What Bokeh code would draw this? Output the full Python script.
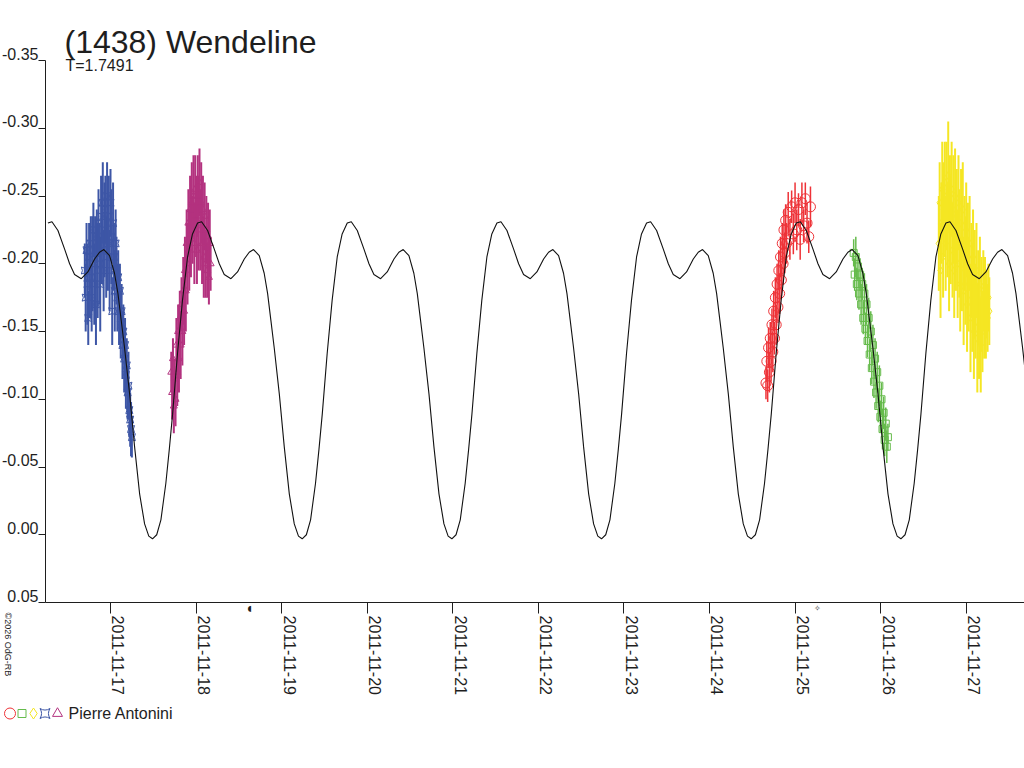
import math
from bokeh.plotting import figure
from bokeh.models import Range1d, FixedTicker, Label, LinearAxis
from bokeh.core.properties import value
from bokeh.embed import file_html
from bokeh.resources import INLINE

TITLE = "(1438) Wendeline"
PERIOD_TEXT = "T=1.7491"
PERIOD = 1.7491          # days
EPOCH_MIN = 19.2403      # day of Nov 2011 of a light-curve minimum
OBSERVER = "Pierre Antonini"
COPYRIGHT = "\u00a92026 OdG-RB"

day_ticks = [17, 18, 19, 20, 21, 22, 23, 24, 25, 26, 27]
day_labels = ["2011-11-17", "2011-11-18", "2011-11-19", "2011-11-20", "2011-11-21",
              "2011-11-22", "2011-11-23", "2011-11-24", "2011-11-25", "2011-11-26",
              "2011-11-27"]
mag_ticks = [-0.35, -0.30, -0.25, -0.20, -0.15, -0.10, -0.05, 0.00, 0.05]
mag_labels = ["-0.35", "-0.30", "-0.25", "-0.20", "-0.15", "-0.10", "-0.05", "0.00", "0.05"]
moon_t = [18.63, 25.26]          # last quarter, new moon
moon_sym = ["\u25d6", "\u2727"]

# one cycle of the fitted light curve (phase, relative magnitude)
curve_phase = [0.000, 0.028, 0.056, 0.089, 0.112, 0.134, 0.167, 0.200, 0.234, 0.267,
               0.301, 0.328, 0.368, 0.412, 0.446, 0.479, 0.524, 0.568, 0.613, 0.646,
               0.675, 0.713, 0.746, 0.769, 0.791, 0.813, 0.847, 0.880, 0.914, 0.947,
               0.975]
curve_mag = [0.003, 0.000, -0.011, -0.038, -0.063, -0.089, -0.134, -0.173, -0.205, -0.222,
             -0.230, -0.231, -0.2245, -0.211, -0.200, -0.192, -0.189, -0.194, -0.2035, -0.2085,
             -0.2105, -0.206, -0.193, -0.178, -0.158, -0.138, -0.104, -0.065, -0.030, -0.008,
             0.001]
cycles = [-2, -1, 0, 1, 2, 3, 4, 5]

# blue session (square pins)
blue_t = [16.70, 16.71, 16.72, 16.73, 16.74, 16.75, 16.76, 16.77, 16.78, 16.79,
          16.80, 16.81, 16.82, 16.83, 16.84, 16.85, 16.86, 16.87, 16.88, 16.89,
          16.90, 16.91, 16.92, 16.93, 16.94, 16.95, 16.96, 16.97, 16.98, 16.99,
          17.00, 17.01, 17.02, 17.03, 17.04, 17.05, 17.06, 17.07, 17.08, 17.09,
          17.10, 17.11, 17.12, 17.13, 17.14, 17.15, 17.16, 17.17, 17.18, 17.19,
          17.20, 17.21, 17.22, 17.23, 17.24, 17.25]
blue_mag = [-0.195, -0.175, -0.210, -0.185, -0.160, -0.205, -0.190, -0.215, -0.175, -0.200,
            -0.225, -0.185, -0.210, -0.170, -0.220, -0.195, -0.230, -0.200, -0.185, -0.235,
            -0.210, -0.245, -0.195, -0.225, -0.240, -0.205, -0.250, -0.215, -0.235, -0.195,
            -0.245, -0.220, -0.165, -0.230, -0.205, -0.180, -0.215, -0.195, -0.175, -0.190,
            -0.165, -0.180, -0.155, -0.165, -0.140, -0.150, -0.130, -0.140, -0.118, -0.125,
            -0.105, -0.110, -0.092, -0.085, -0.078, -0.072]
blue_err = [0.020, 0.025, 0.020, 0.030, 0.020, 0.025, 0.030, 0.020, 0.025, 0.035,
            0.020, 0.030, 0.025, 0.030, 0.020, 0.035, 0.025, 0.030, 0.035, 0.030,
            0.025, 0.030, 0.030, 0.035, 0.025, 0.030, 0.025, 0.035, 0.030, 0.030,
            0.025, 0.035, 0.025, 0.030, 0.025, 0.030, 0.025, 0.025, 0.025, 0.020,
            0.025, 0.020, 0.025, 0.020, 0.025, 0.020, 0.025, 0.020, 0.025, 0.020,
            0.020, 0.025, 0.020, 0.020, 0.020, 0.015]

# magenta session (triangles)
mag_t = [17.71, 17.72, 17.73, 17.74, 17.75, 17.76, 17.77, 17.78, 17.79, 17.80,
         17.81, 17.82, 17.83, 17.84, 17.85, 17.86, 17.87, 17.88, 17.89, 17.90,
         17.91, 17.92, 17.93, 17.94, 17.95, 17.96, 17.97, 17.98, 17.99, 18.00,
         18.01, 18.02, 18.03, 18.04, 18.05, 18.06, 18.07, 18.08, 18.09, 18.10,
         18.11, 18.12, 18.13, 18.14, 18.15, 18.16, 18.17]
mag_mag = [-0.120, -0.105, -0.130, -0.095, -0.115, -0.100, -0.140, -0.120, -0.150, -0.130,
           -0.160, -0.140, -0.170, -0.150, -0.180, -0.165, -0.195, -0.180, -0.215, -0.200,
           -0.230, -0.210, -0.240, -0.220, -0.245, -0.225, -0.250, -0.215, -0.255, -0.235,
           -0.210, -0.250, -0.230, -0.260, -0.225, -0.245, -0.215, -0.240, -0.205, -0.235,
           -0.200, -0.225, -0.195, -0.220, -0.190, -0.215, -0.200]
mag_err = [0.015, 0.020, 0.015, 0.020, 0.015, 0.020, 0.020, 0.025, 0.020, 0.025,
           0.020, 0.025, 0.020, 0.025, 0.025, 0.025, 0.025, 0.030, 0.025, 0.030,
           0.025, 0.030, 0.025, 0.030, 0.030, 0.025, 0.030, 0.030, 0.025, 0.030,
           0.025, 0.030, 0.035, 0.025, 0.030, 0.030, 0.030, 0.025, 0.030, 0.025,
           0.025, 0.025, 0.020, 0.025, 0.020, 0.025, 0.020]

# red session (circles)
red_t = [24.66, 24.67, 24.68, 24.69, 24.70, 24.71, 24.72, 24.73, 24.74, 24.75,
         24.76, 24.77, 24.78, 24.79, 24.80, 24.81, 24.82, 24.83, 24.84, 24.85,
         24.86, 24.87, 24.88, 24.89, 24.90, 24.92, 24.94, 24.96, 24.98, 25.00,
         25.02, 25.04, 25.06, 25.08, 25.10, 25.12, 25.14, 25.16, 25.18]
red_mag = [-0.112, -0.128, -0.110, -0.138, -0.120, -0.145, -0.128, -0.155, -0.135, -0.165,
           -0.145, -0.175, -0.155, -0.185, -0.168, -0.195, -0.178, -0.205, -0.188, -0.215,
           -0.200, -0.225, -0.208, -0.232, -0.215, -0.238, -0.218, -0.242, -0.222, -0.245,
           -0.225, -0.240, -0.218, -0.245, -0.228, -0.248, -0.230, -0.220, -0.242]
red_err = [0.012, 0.015, 0.012, 0.015, 0.015, 0.012, 0.015, 0.012, 0.015, 0.015,
           0.012, 0.015, 0.015, 0.015, 0.012, 0.015, 0.015, 0.015, 0.012, 0.015,
           0.015, 0.015, 0.015, 0.012, 0.015, 0.015, 0.015, 0.012, 0.015, 0.015,
           0.015, 0.012, 0.015, 0.015, 0.012, 0.012, 0.015, 0.012, 0.015]

# green session (squares)
green_t = [25.685, 25.697, 25.710, 25.722, 25.735, 25.747, 25.760, 25.772, 25.785, 25.797,
           25.810, 25.822, 25.835, 25.847, 25.860, 25.872, 25.885, 25.897, 25.910, 25.922,
           25.935, 25.947, 25.960, 25.972, 25.985, 25.997, 26.010, 26.022, 26.035, 26.047,
           26.060, 26.072, 26.085]
green_mag = [-0.208, -0.192, -0.205, -0.185, -0.198, -0.178, -0.192, -0.170, -0.185, -0.160,
             -0.178, -0.152, -0.170, -0.143, -0.160, -0.133, -0.150, -0.123, -0.140, -0.113,
             -0.130, -0.105, -0.120, -0.095, -0.110, -0.087, -0.100, -0.078, -0.090, -0.070,
             -0.082, -0.065, -0.072]
green_err = [0.010, 0.012, 0.015, 0.012, 0.010, 0.012, 0.012, 0.015, 0.012, 0.012,
             0.015, 0.012, 0.015, 0.012, 0.015, 0.012, 0.015, 0.012, 0.015, 0.012,
             0.015, 0.012, 0.015, 0.012, 0.015, 0.012, 0.012, 0.015, 0.012, 0.012,
             0.012, 0.012, 0.010]

# yellow session (diamonds)
yel_t = [26.68, 26.69, 26.70, 26.71, 26.72, 26.73, 26.74, 26.75, 26.76, 26.77,
         26.78, 26.79, 26.80, 26.81, 26.82, 26.83, 26.84, 26.85, 26.86, 26.87,
         26.88, 26.89, 26.90, 26.91, 26.92, 26.93, 26.94, 26.95, 26.96, 26.97,
         26.98, 26.99, 27.00, 27.01, 27.02, 27.03, 27.04, 27.05, 27.06, 27.07,
         27.08, 27.09, 27.10, 27.11, 27.12, 27.13, 27.14, 27.15, 27.16, 27.17,
         27.18, 27.19, 27.20, 27.21, 27.22, 27.23, 27.24, 27.25, 27.26, 27.27]
yel_mag = [-0.215, -0.245, -0.195, -0.230, -0.255, -0.205, -0.240, -0.260, -0.215, -0.250,
           -0.225, -0.265, -0.200, -0.245, -0.225, -0.255, -0.210, -0.240, -0.195, -0.250,
           -0.220, -0.235, -0.200, -0.245, -0.215, -0.185, -0.230, -0.200, -0.240, -0.180,
           -0.215, -0.195, -0.225, -0.170, -0.205, -0.185, -0.215, -0.160, -0.195, -0.175,
           -0.205, -0.150, -0.185, -0.165, -0.195, -0.145, -0.175, -0.155, -0.185, -0.140,
           -0.170, -0.150, -0.180, -0.160, -0.175, -0.155, -0.170, -0.160, -0.175, -0.165]
yel_err = [0.035, 0.030, 0.035, 0.030, 0.035, 0.030, 0.035, 0.030, 0.035, 0.040,
           0.035, 0.040, 0.035, 0.035, 0.040, 0.035, 0.035, 0.040, 0.035, 0.035,
           0.040, 0.035, 0.040, 0.035, 0.040, 0.035, 0.040, 0.035, 0.035, 0.040,
           0.035, 0.040, 0.035, 0.035, 0.040, 0.035, 0.035, 0.040, 0.035, 0.040,
           0.035, 0.035, 0.040, 0.035, 0.035, 0.040, 0.035, 0.040, 0.035, 0.035,
           0.035, 0.030, 0.030, 0.030, 0.030, 0.025, 0.025, 0.025, 0.025, 0.025]

FONT = "Liberation Sans"
INK = "#1e1e1e"
BLUE, MAGENTA, RED, GREEN, YELLOW = "#3d56a6", "#b3327f", "#ee3338", "#66bb4c", "#f5e623"

# ---- layout geometry (page pixels -> data) ----
W, H = 1024, 740
PAGE = 0                      # observed offset of the canvas on the page
AX_X, AX_Y = 45, 602          # page position of the y- and x-axis lines
TOP_Y = 60                    # page y of the -0.35 tick
PX_DAY = 85.57
X0 = 16.2404                  # day at the y-axis line
PX_MAG = (AX_Y - TOP_Y) / 0.40
XLAB_SHIFT = 8 / PX_DAY       # date labels sit just right of their tick
YLAB_SHIFT = 7 / PX_MAG       # magnitude labels sit just above their tick


def px2x(px):
    return X0 + (px - AX_X) / PX_DAY


def py2y(py):
    return -0.35 + (py - TOP_Y) / PX_MAG


p = figure(width=W, height=H,
           x_range=Range1d(px2x(PAGE), px2x(PAGE + W)),
           y_range=Range1d(py2y(PAGE + H), py2y(PAGE)),
           output_backend="svg", toolbar_location=None, title=None, min_border=0)
p.outline_line_color = None
p.xgrid.visible = False
p.ygrid.visible = False
p.background_fill_color = "white"
p.border_fill_color = "white"

sessions = [
    (blue_t, blue_mag, blue_err, BLUE, "square_pin", 7, 2),
    (mag_t, mag_mag, mag_err, MAGENTA, "triangle", 7, 2),
    (red_t, red_mag, red_err, RED, "circle", 10, 1.5),
    (green_t, green_mag, green_err, GREEN, "square", 7, 1.5),
    (yel_t, yel_mag, yel_err, YELLOW, "diamond", 8, 2),
]
for t, m, e, col, mk, sz, lw in sessions:
    lo = [a - b for a, b in zip(m, e)]
    hi = [a + b for a, b in zip(m, e)]
    p.segment(x0=t, y0=lo, x1=t, y1=hi, line_color=col, line_width=lw)
    p.scatter(x=t, y=m, marker=mk, size=sz, fill_color=None, line_color=col, line_width=1)

cx, cy = [], []
for k in cycles:
    for ph, mg in zip(curve_phase, curve_mag):
        t = EPOCH_MIN + (k + ph) * PERIOD
        if t >= X0:
            cx.append(t)
            cy.append(mg)
p.line(cx, cy, line_color="#111111", line_width=1.1)


def style_axis(ax):
    ax.major_tick_in = 0
    ax.minor_tick_out = 0
    ax.minor_tick_in = 0
    ax.minor_tick_line_color = None
    ax.major_label_text_font = FONT
    ax.major_label_text_font_size = "16px"
    ax.major_label_text_color = INK
    ax.axis_line_color = INK
    ax.major_tick_line_color = INK


# x axis: line + ticks
xa = p.xaxis[0]
style_axis(xa)
xa.fixed_location = 0.05
xa.bounds = (X0, px2x(PAGE + W))
xa.ticker = FixedTicker(ticks=day_ticks)
xa.major_tick_out = 11
xa.major_label_text_color = None

# x axis: date labels (rotated, placed just right of each tick)
xl_ticks = [d + XLAB_SHIFT for d in day_ticks]
xl = LinearAxis(fixed_location=0.05, ticker=FixedTicker(ticks=xl_ticks),
                major_label_overrides=dict(zip(xl_ticks, day_labels)))
style_axis(xl)
xl.axis_line_color = None
xl.major_tick_line_color = None
xl.major_tick_out = 11
xl.major_label_standoff = 2
xl.major_label_orientation = -math.pi / 2
p.add_layout(xl, "below")

# y axis: line + ticks
ya = p.yaxis[0]
style_axis(ya)
ya.fixed_location = X0
ya.bounds = (-0.35, 0.05)
ya.ticker = FixedTicker(ticks=mag_ticks)
ya.major_tick_out = 7
ya.major_label_text_color = None

# y axis: magnitude labels (sitting on their tick)
yl_ticks = [m - YLAB_SHIFT for m in mag_ticks]
yl = LinearAxis(fixed_location=X0, ticker=FixedTicker(ticks=yl_ticks),
                major_label_overrides=dict(zip(yl_ticks, mag_labels)))
style_axis(yl)
yl.axis_line_color = None
yl.major_tick_line_color = None
yl.major_tick_out = 7
yl.major_label_standoff = 0
p.add_layout(yl, "left")

p.add_layout(Label(x=px2x(64), y=py2y(41), text=TITLE,
                   text_font=FONT, text_font_size="32px", text_color=INK,
                   text_baseline="alphabetic", text_align="left"))
p.add_layout(Label(x=px2x(65), y=py2y(65), text=PERIOD_TEXT,
                   text_font=FONT, text_font_size="16px", text_color=INK,
                   text_baseline="alphabetic", text_align="left"))
p.add_layout(Label(x=px2x(2), y=py2y(612), text=COPYRIGHT, angle=-math.pi / 2,
                   text_font=FONT, text_font_size="9px", text_color=INK,
                   text_baseline="bottom", text_align="left"))
for mt, ms in zip(moon_t, moon_sym):
    p.add_layout(Label(x=mt, y=py2y(608), text=ms, text_font="DejaVu Sans",
                       text_font_size="8px", text_color=INK, text_align="center",
                       text_baseline="middle"))

# legend row
leg_y = py2y(713)
for xx, col, mk, sz in [(9.5, RED, "circle", 11), (21.5, GREEN, "square", 8),
                        (33, YELLOW, "diamond", 11), (44.5, BLUE, "square_pin", 10),
                        (57, MAGENTA, "triangle", 10)]:
    p.scatter(x=[px2x(xx)], y=[leg_y], marker=mk, size=sz, fill_color=None,
              line_color=col, line_width=1)
p.text(x=[px2x(68)], y=[leg_y], text=[OBSERVER], text_font=value(FONT),
       text_font_size="16px", text_color=INK, text_baseline="middle", text_align="left")

open("out.html", "w").write(file_html(p, INLINE))
